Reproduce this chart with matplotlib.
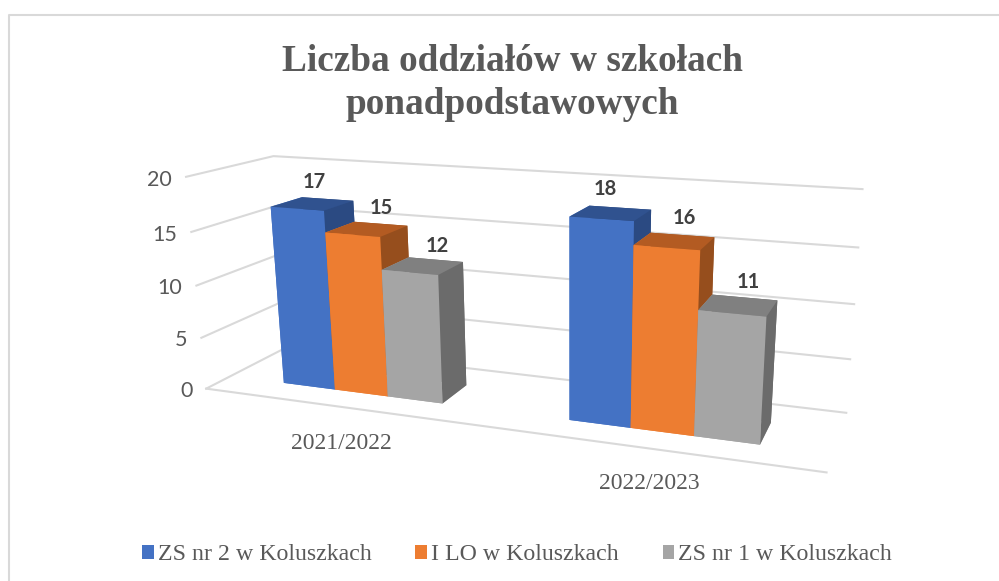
"""
3D column chart, Excel style: number of school classes per year.
"""

import numpy as np
import matplotlib
matplotlib.use('Agg')
import matplotlib.pyplot as plt
from matplotlib.lines import Line2D
from matplotlib.patches import Patch

TITLE = 'Liczba oddziałów w szkołach\nponadpodstawowych'
years = ['2021/2022', '2022/2023']
schools = ['ZS nr 2 w Koluszkach', 'I LO w Koluszkach', 'ZS nr 1 w Koluszkach']
values_zs2 = [17, 18]
values_lo = [15, 16]
values_zs1 = [12, 11]
z_ticks = [0, 5, 10, 15, 20]

W, H = 999, 581
BAR_W = 0.0968
GROUP_GAP = 0.104
DEPTH = (0.28, 0.66)
# where each data label sits along its column, and how far above it
LABEL_FRAC = [0.26, 0.53, 0.54]
LABEL_LIFT = [1.5, 1.5, 1.35]

# (front colour, top colour, side colour) for each school
face_colors = [
    ('#4472C4', '#30528F', '#2B4A82'),
    ('#ED7D31', '#B35B22', '#964E1D'),
    ('#A5A5A5', '#808080', '#6B6B6B'),
]
GREY_TEXT = '#595959'
GRID = '#D9D9D9'

# Where the corners of the plot box sit in the reference, used to fit the camera
anchors = [
    ((0, 0, 0), (205, 389)), ((0, 0, 5), (201, 338)), ((0, 0, 10), (196, 286)),
    ((0, 0, 15), (191, 232)), ((0, 0, 20), (188, 177)),
    ((0, 1, 0), (289, 346)), ((0, 1, 20), (272, 156)),
    ((1, 1, 0), (846, 414)), ((1, 1, 5), (850, 360)), ((1, 1, 10), (854, 304)),
    ((1, 1, 15), (858, 247)), ((1, 1, 20), (863, 189)),
    ((1, 0, 0), (827, 471)),
]


def fit_camera(points):
    """Least squares fit of a 3x4 projection matrix (data -> pixels)."""
    rows, rhs = [], []
    for (x, y, z), (u, v) in points:
        rows.append([x, y, z, 1, 0, 0, 0, 0, -u * x, -u * y, -u * z])
        rows.append([0, 0, 0, 0, x, y, z, 1, -v * x, -v * y, -v * z])
        rhs += [u, v]
    p = np.linalg.lstsq(np.array(rows, float), np.array(rhs, float), rcond=None)[0]
    return np.append(p, 1.0).reshape(3, 4)


fig = plt.figure(figsize=(W / 100, H / 100), dpi=100, facecolor='white')
ax = fig.add_axes([0, 0, 1, 1], projection='3d', computed_zorder=False)
ax.apply_aspect = lambda position=None: None
ax.set_axis_off()
ax.patch.set_alpha(0)

camera = fit_camera(anchors)


def fitted_proj():
    # pixels (y down) -> display -> the 2D coordinates mplot3d draws in
    u, v, w = camera
    to_2d = ax.transData.inverted().get_matrix()
    disp = np.array([u, H * w - v, w])
    xy = to_2d @ disp
    return np.array([xy[0], xy[1], [0, 0, 0, -1], xy[2]])


ax.get_proj = fitted_proj

# Walls and floor
for tick in z_ticks:
    ax.plot([0, 0, 1], [0, 1, 1], [tick, tick, tick], color=GRID, lw=1.5, zorder=1)
ax.plot([0, 1], [0, 0], [0, 0], color=GRID, lw=1.5, zorder=1)

# Columns, left to right so nearer ones paint over farther ones
series = [values_zs2, values_lo, values_zs1]
order = 2
for g in range(len(years)):
    start = g * 0.503 + GROUP_GAP
    for s, vals in enumerate(series):
        x0 = start + s * BAR_W
        front, top, side = face_colors[s]
        # faces: bottom, top, front, back, left, right
        ax.bar3d(x0, DEPTH[0], 0, BAR_W, DEPTH[1] - DEPTH[0], vals[g],
                 color=[front, top, front, side, front, side],
                 shade=False, linewidth=0, zorder=order)
        ax.text(x0 + BAR_W * LABEL_FRAC[s], DEPTH[1], vals[g] + LABEL_LIFT[s], str(vals[g]),
                ha='center', va='center', family='Lato', weight='bold',
                fontsize=14.5, color='#404040', zorder=20)
        order += 1

# Axis labels
for tick in z_ticks:
    ax.text(-0.028, 0, tick - 0.4, str(tick), ha='right', va='center', family='Lato',
            fontsize=15.5, color=GREY_TEXT, zorder=20)
for g, year in enumerate(years):
    ax.text(0.248 + g * 0.504, 0, -3.6 + g * 0.45, year, ha='center', va='center',
            family='Liberation Serif', fontsize=17, color=GREY_TEXT, zorder=20)

fig.text(512 / W, 1 - 83 / H, TITLE, ha='center', va='center', ma='center',
         family='Liberation Serif', weight='bold', fontsize=26.8, color=GREY_TEXT,
         linespacing=1.32)

handles = [Patch(facecolor=c[0], edgecolor='none') for c in face_colors]
fig.legend(handles, schools, loc='center', bbox_to_anchor=(517 / W, 1 - 555 / H),
           ncol=3, frameon=False, handlelength=0.48, handleheight=0.48,
           handletextpad=0.17, columnspacing=1.84,
           prop={'family': 'Liberation Serif', 'size': 17.2}, labelcolor=GREY_TEXT)

# Chart frame, cut off by the screenshot at the right and bottom
fig.add_artist(Line2D([9 / W, 9 / W, 1], [0, 1 - 15 / H, 1 - 15 / H], color=GRID, lw=1.5))

fig.savefig('out.png', dpi=100)
